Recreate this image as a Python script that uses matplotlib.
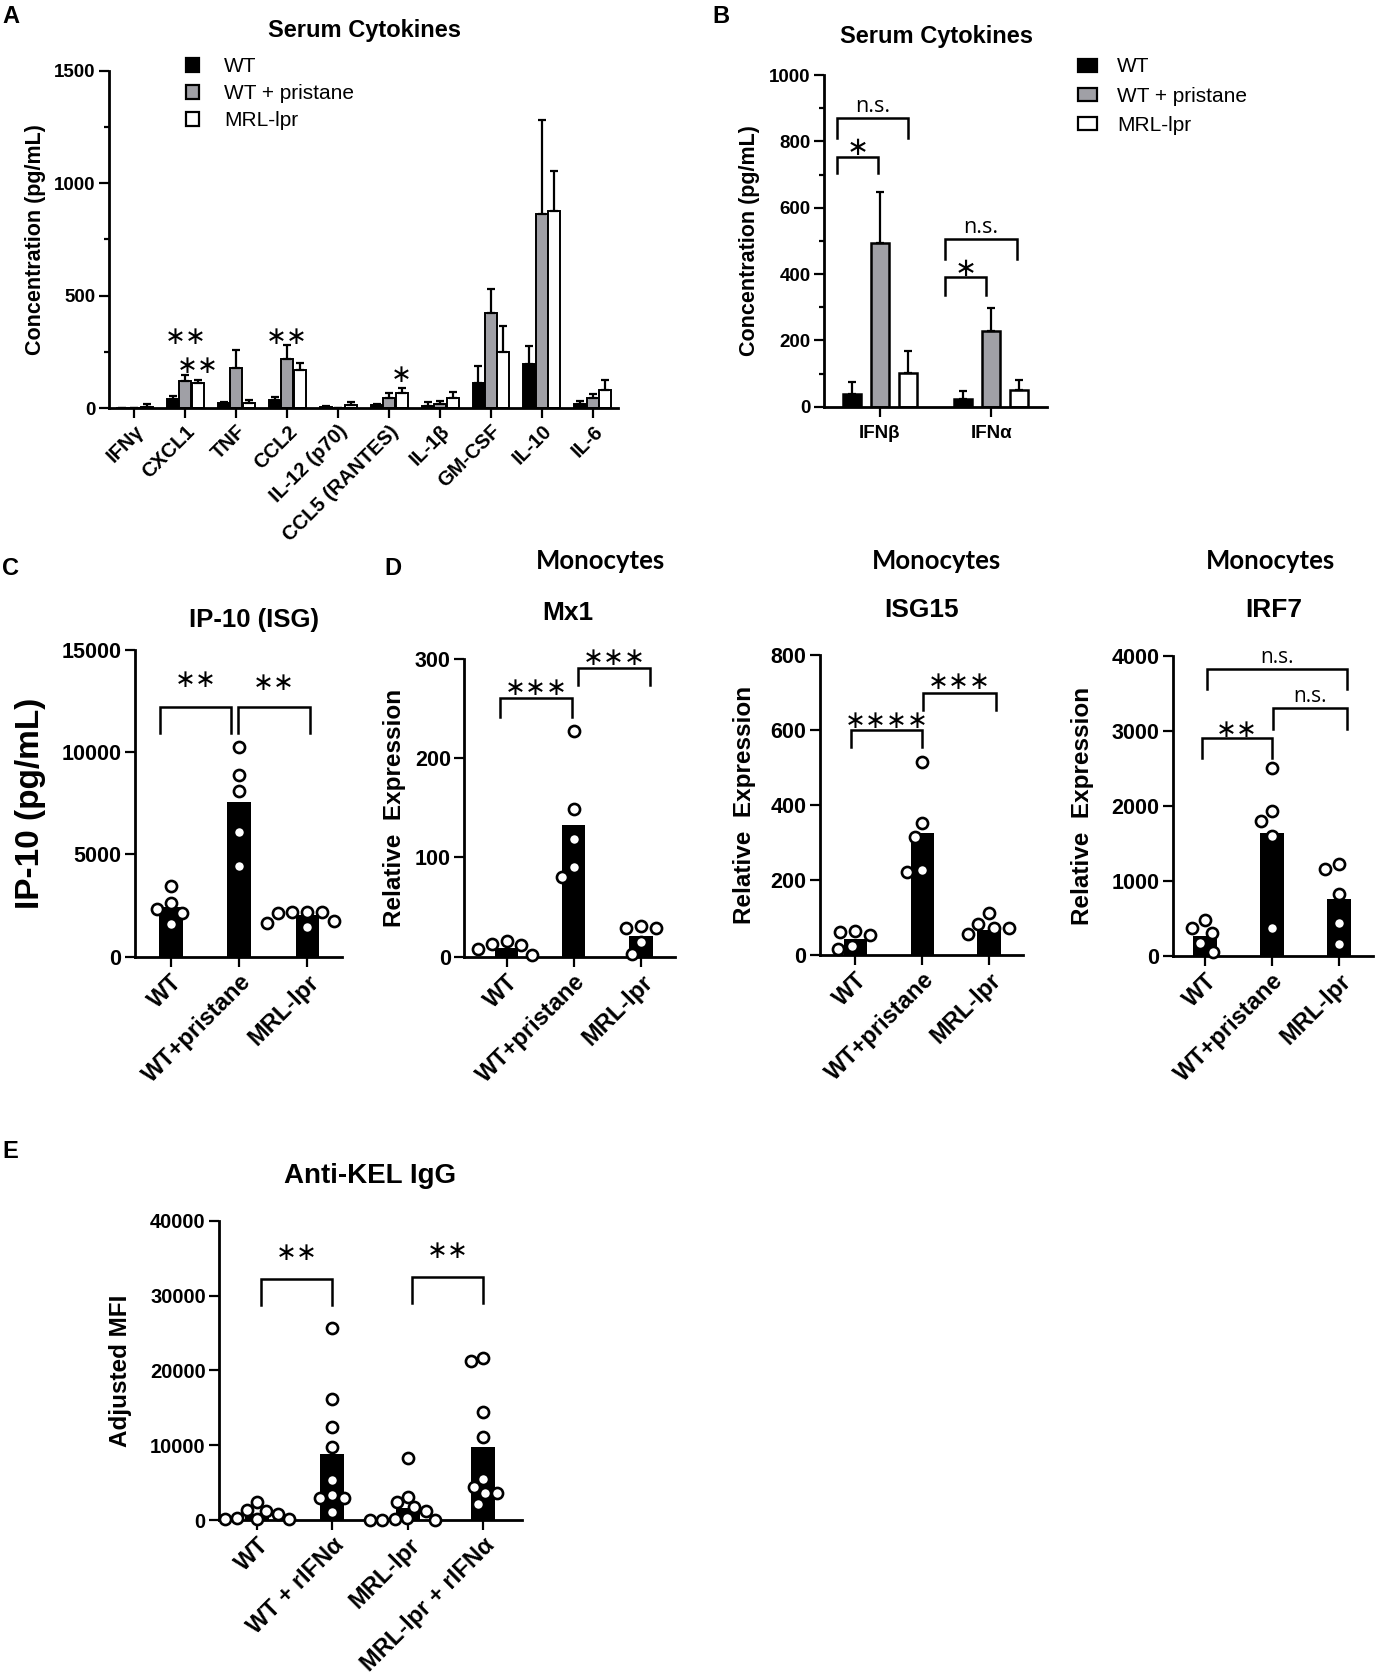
import numpy as np
import matplotlib
matplotlib.use('Agg')
import matplotlib.pyplot as plt
from matplotlib.patches import Patch
from matplotlib.ticker import MultipleLocator

plt.rcParams['font.family'] = ['Liberation Sans', 'DejaVu Sans']
plt.rcParams['font.weight'] = 'bold'
plt.rcParams['axes.linewidth'] = 2.0

# ---------------- data ----------------
# A: serum cytokines (mean and upper error)
cyto_names = ['IFNγ', 'CXCL1', 'TNF', 'CCL2', 'IL-12 (p70)', 'CCL5 (RANTES)',
              'IL-1β', 'GM-CSF', 'IL-10', 'IL-6']
cyto_wt = [2, 40, 22, 37, 5, 15, 11, 114, 197, 18]
cyto_wt_err = [1, 15, 6, 13, 5, 6, 15, 73, 79, 16]
cyto_pri = [2, 120, 178, 220, 2, 45, 18, 425, 864, 46]
cyto_pri_err = [1, 28, 82, 61, 1, 22, 15, 103, 419, 16]
cyto_mrl = [5, 112, 22, 170, 15, 67, 47, 250, 876, 81]
cyto_mrl_err = [14, 13, 15, 32, 15, 25, 27, 116, 178, 45]
# stars over A bars: (group, bar offset, level, label)
cyto_stars = [(1, 0, 318, '**'), (1, 0.245, 190, '**'), (3, 0, 318, '**'), (5, 0.245, 148, '*')]

# B: type I interferons
ifn_names = ['IFNβ', 'IFNα']
ifn_wt = [37, 22]
ifn_wt_err = [36, 26]
ifn_pri = [494, 229]
ifn_pri_err = [154, 69]
ifn_mrl = [103, 50]
ifn_mrl_err = [66, 30]

groups3 = ['WT', 'WT+pristane', 'MRL-lpr']

# C: IP-10
ip10_wt = [2641, 1597, 3472, 2315, 2152]
ip10_pri = [10270, 8884, 8101, 6113, 4450]
ip10_mrl = [2152, 1467, 2201, 2201, 1630, 1760, 2201]
ip10_bar = [2445, 7547, 2038]

# D: monocyte ISGs
mx1_wt = [16.1, 1.7, 12.8, 7.4, 11.8]
mx1_pri = [227, 149, 119, 80, 90]
mx1_mrl = [29, 2.3, 31, 14.7, 29]
mx1_bar = [9, 133, 21]

isg15_wt = [64, 15, 53, 62, 25]
isg15_pri = [514, 351, 316, 222, 228]
isg15_mrl = [111, 55, 83, 71, 73]
isg15_bar = [42, 326, 67]

irf7_wt = [480, 302, 58, 369, 169]
irf7_pri = [2509, 1798, 1931, 1598, 380]
irf7_mrl = [1227, 1160, 827, 444, 156]
irf7_bar = [265, 1643, 757]

# E: anti-KEL IgG
kel_groups = ['WT', 'WT + rIFNα', 'MRL-lpr', 'MRL-lpr + rIFNα']
kel_wt = [2361, 89, 1336, 1203, 100, 802, 89, 312]
kel_wt_ifn = [3341, 25610, 16124, 12382, 9710, 5345, 2895, 1024, 2895]
kel_mrl = [2361, 50, 3118, 1203, 1693, 50, 8329, 312, 0, 89]
kel_mrl_ifn = [21602, 4365, 2138, 21246, 14476, 11046, 3563, 5434, 3563]
kel_bar = [750, 8819, 1600, 9710]

# significance brackets: (from, to, level, drop, label, label level)
ifn_sig = [(-0.39, 0.255, 871, 62, 'n.s.', 905), (-0.39, -0.015, 754, 50, '*', 779),
           (0.586, 1.232, 506, 62, 'n.s.', 540), (0.586, 0.955, 390, 53, '*', 414)]
ip10_sig = [(-0.15, 0.88, 12192, 1238, '**', 13530), (0.99, 2.04, 12192, 1238, '**', 13366)]
mx1_sig = [(-0.1, 0.975, 261, 19, '***', 271), (1.07, 2.13, 291, 17, '***', 301)]
isg15_sig = [(-0.065, 1.0, 600, 44, '****', 623), (1.01, 2.1, 700, 47, '***', 728)]
irf7_sig = [(0.03, 2.12, 3823, 267, 'n.s.', 3975), (1.02, 2.12, 3312, 279, 'n.s.', 3465),
            (-0.05, 1.0, 2913, 267, '**', 3010)]
kel_sig = [(0.055, 1.0, 32158, 3430, '**', 35650), (2.06, 3.0, 32425, 3474, '**', 35950)]

GRAY = '#a0a0a6'
W, H = 1379, 1680
fig = plt.figure(figsize=(W / 100, H / 100), dpi=100)


def px_axes(left, top, right, bottom):
    ax = fig.add_axes([left / W, 1 - bottom / H, (right - left) / W, (bottom - top) / H])
    ax.spines['top'].set_visible(False)
    ax.spines['right'].set_visible(False)
    ax.tick_params(direction='out', length=7.2, width=1.6, pad=2.5)
    ax.tick_params(which='minor', direction='out', length=3.6, width=1.6)
    return ax


def ftext(x, y, s, **kw):
    fig.text(x / W, 1 - y / H, s, **kw)


def ylab(ax, s, xpx, size):
    ax.set_ylabel(s, fontsize=size, fontweight='bold')
    bb = ax.get_position()
    ax.yaxis.set_label_coords((xpx / W - bb.x0) / bb.width, 0.5)


def stars(ax, x, y, lab, size=18):
    ax.text(x, y, '∗' * len(lab), ha='center', va='center', fontsize=size,
            fontweight='normal', family='DejaVu Sans')


def add_sig(ax, sig, star_size=18, ns_size=15):
    for x1, x2, y, drop, lab, ly in sig:
        ax.plot([x1, x1, x2, x2], [y - drop, y, y, y - drop], color='k', lw=1.8,
                clip_on=False, solid_joinstyle='miter')
        if lab == 'n.s.':
            ax.text((x1 + x2) / 2, ly, lab, ha='center', va='center', fontsize=ns_size,
                    fontweight='normal', family='Open Sans')
        else:
            stars(ax, (x1 + x2) / 2, ly, lab, star_size)


def swarm(ax, vals, d):
    # simple beeswarm in pixel space so circles do not pile up
    bb = ax.get_position()
    y0, y1 = ax.get_ylim()
    x0, x1 = ax.get_xlim()
    ypx = bb.height * H / (y1 - y0)
    xpx = bb.width * W / (x1 - x0)
    ys = np.asarray(vals, float) * ypx
    xs = np.zeros(len(ys))
    placed = []
    for i in np.argsort(-ys, kind='stable'):
        y = ys[i]
        cands = [0.0]
        for px_, py_ in placed:
            dy = abs(py_ - y)
            if dy < d:
                dx = np.sqrt(d * d - dy * dy)
                cands += [px_ - dx, px_ + dx]
        cands.sort(key=lambda c: (abs(c), c))
        for c in cands:
            if all((c - px_) ** 2 + (y - py_) ** 2 >= d * d - 1e-6 for px_, py_ in placed):
                xs[i] = c
                break
        placed.append((xs[i], y))
    return xs / xpx


def dot_panel(ax, series, bars, labels, ymax, step, xlim, bw=0.35, tsize=15.5, lsize=17,
              d=15.0):
    ax.set_xlim(*xlim)
    ax.set_ylim(0, ymax)
    ax.set_yticks(np.arange(0, ymax + 1, step))
    xs = np.arange(len(series))
    ax.bar(xs, bars, width=bw, color='k', zorder=2)
    for x, vals in zip(xs, series):
        off = swarm(ax, vals, d)
        ax.plot(x + off, vals, 'o', ms=8, mfc='white', mec='k', mew=1.9, ls='none',
                zorder=3, clip_on=False)
    ax.set_xticks(xs)
    ax.set_xticklabels(labels, rotation=45, ha='right', va='top', rotation_mode='anchor',
                       fontsize=lsize, fontweight='bold')
    for t in ax.get_yticklabels():
        t.set_fontsize(tsize)
        t.set_fontweight('bold')


leg_handles = [Patch(facecolor='k', edgecolor='k', lw=1.6),
               Patch(facecolor=GRAY, edgecolor='k', lw=1.6),
               Patch(facecolor='white', edgecolor='k', lw=1.6)]
leg_labels = ['WT', 'WT + pristane', 'MRL-lpr']
leg_font = {'family': 'Liberation Sans', 'weight': 'normal', 'size': 15}
ekw = dict(fmt='none', ecolor='k', elinewidth=1.6, capsize=3.2, capthick=1.6, zorder=3)

# ---------------- A ----------------
axA = px_axes(109, 70.7, 618.3, 408.3)
xa = np.arange(len(cyto_names))
for off, m, e, c in [(-0.245, cyto_wt, cyto_wt_err, 'k'), (0, cyto_pri, cyto_pri_err, GRAY),
                     (0.245, cyto_mrl, cyto_mrl_err, 'white')]:
    axA.bar(xa + off, m, width=0.235, color=c, edgecolor='k', linewidth=1.4, zorder=2)
    axA.errorbar(xa + off, m, yerr=[np.zeros(len(m)), e], **ekw)
axA.set_xlim(-0.5, 9.5)
axA.set_ylim(0, 1500)
axA.set_yticks([0, 500, 1000, 1500])
axA.yaxis.set_minor_locator(MultipleLocator(250))
axA.set_xticks(xa)
axA.set_xticklabels(cyto_names, rotation=45, ha='right', va='top', rotation_mode='anchor',
                    fontsize=14.5, fontweight='bold')
for t in axA.get_yticklabels():
    t.set_fontsize(13.5)
ylab(axA, 'Concentration (pg/mL)', 46, 15.5)
for g, off, lvl, lab in cyto_stars:
    stars(axA, g + off, lvl, lab)
fig.legend(leg_handles, leg_labels, loc='upper left', bbox_to_anchor=(176 / W, 1 - 47 / H),
           frameon=False, borderpad=0, handlelength=0.6, handleheight=0.7,
           handletextpad=1.2, labelspacing=0.38, prop=leg_font)
ftext(364, 37.5, 'Serum Cytokines', ha='center', va='baseline', fontsize=17)
ftext(2, 23, 'A', ha='left', va='baseline', fontsize=17)

# ---------------- B ----------------
axB = px_axes(824.3, 75, 1046.7, 406.7)
xb = np.arange(len(ifn_names))
for off, m, e, c in [(-0.25, ifn_wt, ifn_wt_err, 'k'), (0, ifn_pri, ifn_pri_err, GRAY),
                     (0.25, ifn_mrl, ifn_mrl_err, 'white')]:
    axB.bar(xb + off, m, width=0.165, color=c, edgecolor='k', linewidth=1.8, zorder=2)
    axB.errorbar(xb + off, m, yerr=[np.zeros(len(m)), e], **ekw)
axB.set_xlim(-0.5, 1.5)
axB.set_ylim(0, 1000)
axB.set_yticks(np.arange(0, 1001, 200))
axB.yaxis.set_minor_locator(MultipleLocator(100))
axB.set_xticks(xb)
axB.set_xticklabels(ifn_names, fontsize=13.5, fontweight='bold')
axB.tick_params(axis='x', pad=6)
for t in axB.get_yticklabels():
    t.set_fontsize(13.5)
ylab(axB, 'Concentration (pg/mL)', 760, 15.5)
add_sig(axB, ifn_sig, star_size=19, ns_size=15.5)
fig.legend(leg_handles, leg_labels, loc='upper left', bbox_to_anchor=(1068 / W, 1 - 47 / H),
           frameon=False, borderpad=0, handlelength=0.9, handleheight=0.58,
           handletextpad=0.95, labelspacing=0.5, prop=leg_font)
ftext(936, 43, 'Serum Cytokines', ha='center', va='baseline', fontsize=17)
ftext(712, 23, 'B', ha='left', va='baseline', fontsize=17)

# ---------------- C ----------------
axC = px_axes(135, 650, 341.7, 956.7)
dot_panel(axC, [ip10_wt, ip10_pri, ip10_mrl], ip10_bar, groups3, 15000, 5000, (-0.52, 2.5))
ylab(axC, 'IP-10 (pg/mL)', 46, 24)
add_sig(axC, ip10_sig)
ftext(254, 627, 'IP-10 (ISG)', ha='center', va='baseline', fontsize=18.5)
ftext(2, 575, 'C', ha='left', va='baseline', fontsize=17)

# ---------------- D ----------------
axM = px_axes(464.3, 659, 675, 956.7)
dot_panel(axM, [mx1_wt, mx1_pri, mx1_mrl], mx1_bar, groups3, 300, 100, (-0.63, 2.51))
ylab(axM, 'Relative  Expression', 406, 17.5)
add_sig(axM, mx1_sig)
ftext(568, 620, 'Mx1', ha='center', va='baseline', fontsize=19)

axI = px_axes(820, 655, 1023.3, 955)
dot_panel(axI, [isg15_wt, isg15_pri, isg15_mrl], isg15_bar, groups3, 800, 200,
          (-0.53, 2.51))
ylab(axI, 'Relative  Expression', 756, 17.5)
add_sig(axI, isg15_sig)
ftext(922, 617, 'ISG15', ha='center', va='baseline', fontsize=19)

axR = px_axes(1172.7, 656, 1373, 956)
dot_panel(axR, [irf7_wt, irf7_pri, irf7_mrl], irf7_bar, groups3, 4000, 1000,
          (-0.48, 2.51))
ylab(axR, 'Relative  Expression', 1094, 17.5)
add_sig(axR, irf7_sig)
ftext(1274, 617, 'IRF7', ha='center', va='baseline', fontsize=19)

for xc in [600, 937, 1271]:
    ftext(xc, 569, 'Monocytes', ha='center', va='baseline', fontsize=18.5,
          family='Lato', fontweight='bold')
ftext(384, 575, 'D', ha='left', va='baseline', fontsize=17)

# ---------------- E ----------------
axE = px_axes(219.3, 1220.7, 521.7, 1520)
dot_panel(axE, [kel_wt, kel_wt_ifn, kel_mrl, kel_mrl_ifn], kel_bar, kel_groups, 40000,
          10000, (-0.5, 3.51), bw=0.32, tsize=14.5, lsize=17, d=12.5)
ylab(axE, 'Adjusted MFI', 132, 17.5)
add_sig(axE, kel_sig)
ftext(370.5, 1183, 'Anti-KEL IgG', ha='center', va='baseline', fontsize=20)
ftext(2, 1158, 'E', ha='left', va='baseline', fontsize=17)

fig.savefig('out.png', dpi=100)
